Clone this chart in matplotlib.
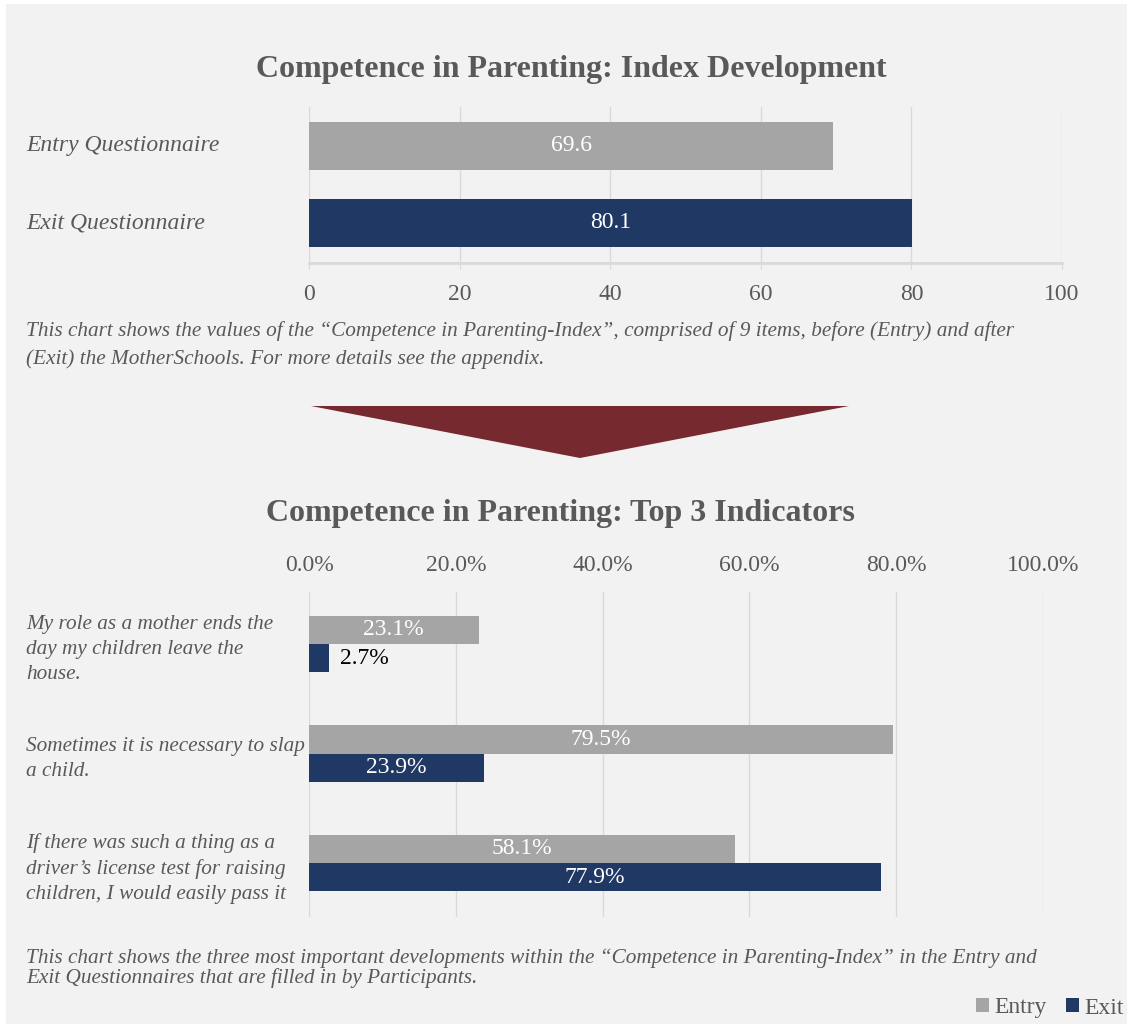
import matplotlib
matplotlib.use("Agg")
import matplotlib.pyplot as plt
from matplotlib.patches import Rectangle, Polygon
from matplotlib.transforms import blended_transform_factory

# データ
index_labels = ["Entry Questionnaire", "Exit Questionnaire"]
index_values = [69.6, 80.1]

indicator_labels = [
    "My role as a mother ends the\nday my children leave the\nhouse.",
    "Sometimes it is necessary to slap\na child.",
    "If there was such a thing as a\ndriver\u2019s license test for raising\nchildren, I would easily pass it",
]
entry_pct = [23.1, 79.5, 58.1]
exit_pct = [2.7, 23.9, 77.9]

title_top = "Competence in Parenting: Index Development"
title_bottom = "Competence in Parenting: Top 3 Indicators"
note_top = ("This chart shows the values of the \u201cCompetence in Parenting-Index\u201d, "
            "comprised of 9 items, before (Entry) and after\n"
            "(Exit) the MotherSchools. For more details see the appendix.")
note_bottom = ("This chart shows the three most important developments within the "
               "\u201cCompetence in Parenting-Index\u201d in the Entry and\n"
               "Exit Questionnaires that are filled in by Participants.")

# 色・フォント
GRAY = "#A5A5A5"
NAVY = "#1F3864"
BG = "#F2F2F2"
TXT = "#595959"
GRID = "#D9D9D9"
ARROW = "#76292E"
plt.rcParams["font.family"] = ["Liberation Serif", "DejaVu Serif"]

W, H = 1127, 1024


def box(l, t, r, b):
    # ピクセル指定 -> figure座標
    return [l / W, 1 - b / H, (r - l) / W, (b - t) / H]


def fx(px):
    return px / W


def fy(py):
    return 1 - py / H


fig = plt.figure(figsize=(W / 100, H / 100), dpi=100, facecolor="white")
fig.patches.append(Rectangle((fx(6), 0), 1 - fx(6), fy(4), transform=fig.transFigure,
                             facecolor=BG, edgecolor="none", zorder=-5))

# > 上のグラフ
ax1 = fig.add_axes(box(309, 107, 1062, 263))
ax1.set_facecolor("none")
ypos = list(range(len(index_values)))
bars = ax1.barh(ypos, index_values, height=0.62, color=[GRAY, NAVY], zorder=3)
ax1.bar_label(bars, labels=[f"{v:.1f}" for v in index_values], label_type="center",
              color="white", fontsize=17)
ax1.set_xlim(0, 100)
ax1.set_ylim(1.52, -0.506)
ax1.set_xticks(range(0, 101, 20))
ax1.set_yticks([])
ax1.grid(axis="x", color=GRID, linewidth=1.0, zorder=0)
for s in ["top", "right", "left"]:
    ax1.spines[s].set_visible(False)
ax1.spines["bottom"].set_color(GRID)
ax1.spines["bottom"].set_linewidth(2.0)
ax1.tick_params(axis="x", length=4, width=0.8, color=GRID, labelcolor=TXT,
                labelsize=17, pad=11)
tr1 = blended_transform_factory(fig.transFigure, ax1.transData)
for y, lab in zip(ypos, index_labels):
    ax1.text(fx(26), y, lab, transform=tr1, ha="left", va="center",
             fontsize=17, style="italic", color=TXT)
fig.text(fx(571), fy(70), title_top, ha="center", va="center",
         fontsize=23, fontweight="bold", color=TXT)
fig.text(fx(26), fy(345), note_top, ha="left", va="center", fontsize=15.3,
         style="italic", color=TXT, linespacing=1.5)

# 矢印
fig.patches.append(Polygon([(fx(311), fy(406)), (fx(849), fy(406)), (fx(580), fy(458))],
                           closed=True, transform=fig.transFigure,
                           facecolor=ARROW, edgecolor="none", zorder=1))

# > 下のグラフ
ax2 = fig.add_axes(box(309, 592, 1043, 917))
ax2.set_facecolor("none")
h = 0.26
grp = list(range(len(entry_pct)))
b_entry = ax2.barh([g - h / 2 for g in grp], entry_pct, height=h, color=GRAY,
                   label="Entry", zorder=3)
b_exit = ax2.barh([g + h / 2 for g in grp], exit_pct, height=h, color=NAVY,
                  label="Exit", zorder=3)
ax2.bar_label(b_entry, labels=[f"{v:.1f}%" for v in entry_pct], label_type="center",
              color="white", fontsize=17)
# 短いバーは外側に黒で
ax2.bar_label(b_exit, labels=[f"{v:.1f}%" if v >= 10 else "" for v in exit_pct],
              label_type="center", color="white", fontsize=17)
ax2.bar_label(b_exit, labels=[f"{v:.1f}%" if v < 10 else "" for v in exit_pct],
              label_type="edge", padding=8, color="black", fontsize=17)
ax2.set_xlim(0, 100)
ax2.set_ylim(2.493, -0.475)
ax2.set_xticks(range(0, 101, 20))
ax2.set_xticklabels([f"{t:.1f}%" for t in range(0, 101, 20)])
ax2.set_yticks([])
ax2.xaxis.tick_top()
ax2.tick_params(axis="x", length=0, labelcolor=TXT, labelsize=17, pad=11.5)
ax2.grid(axis="x", color=GRID, linewidth=1.0, zorder=0)
for s in ax2.spines.values():
    s.set_visible(False)
tr2 = blended_transform_factory(fig.transFigure, ax2.transData)
for g, lab in zip(grp, indicator_labels):
    ax2.text(fx(26), g + 0.05, lab, transform=tr2, ha="left", va="center",
             fontsize=15.3, style="italic", color=TXT, linespacing=1.42)
fig.text(fx(560), fy(514), title_bottom, ha="center", va="center",
         fontsize=23, fontweight="bold", color=TXT)
fig.text(fx(26), fy(968), note_bottom, ha="left", va="center", fontsize=15.3,
         style="italic", color=TXT, linespacing=0.98)

fig.legend(handles=[b_entry, b_exit], loc="center right",
           bbox_to_anchor=(fx(1124), fy(1008)), ncol=2, frameon=False,
           fontsize=17, labelcolor=TXT, handlelength=0.55, handleheight=0.55,
           handletextpad=0.25, columnspacing=0.8, borderpad=0, borderaxespad=0)

fig.savefig("out.png", dpi=100, facecolor=fig.get_facecolor())
